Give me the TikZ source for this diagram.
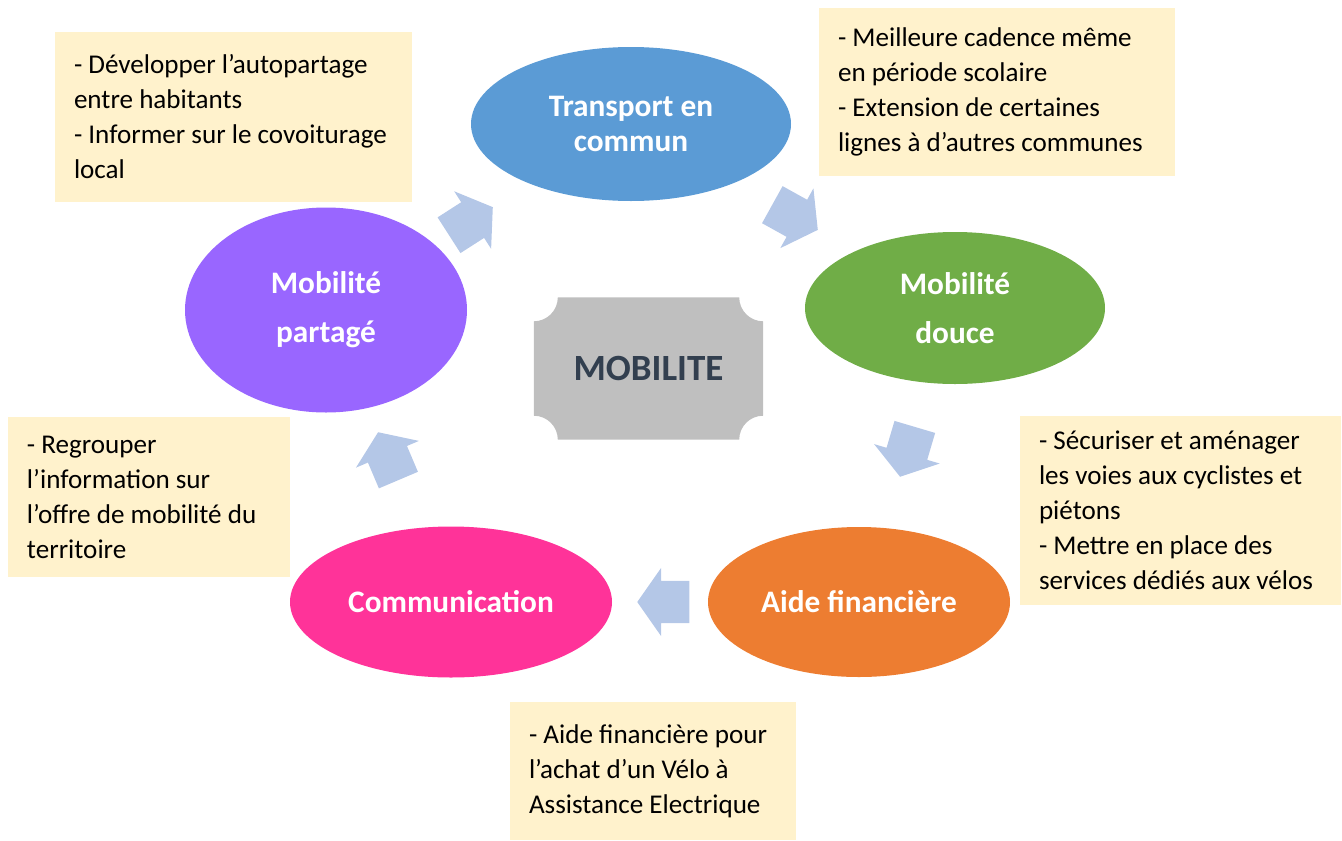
\documentclass[tikz,border=0pt]{standalone}
\usepackage{fontspec}
\setmainfont{Carlito}
\usetikzlibrary{positioning, shapes, calc, backgrounds}

\definecolor{bleuTC}{HTML}{5B9BD5}
\definecolor{vertMD}{HTML}{70AD47}
\definecolor{orangeAF}{HTML}{ED7D31}
\definecolor{roseCom}{HTML}{FF3399}
\definecolor{violetMP}{HTML}{9966FF}
\definecolor{jauneCadre}{HTML}{FFF2CC}
\definecolor{bleuFleche}{HTML}{B4C7E7}
\definecolor{grisPlaque}{HTML}{BFBFBF}
\definecolor{texteMob}{HTML}{323F4F}

\begin{document}
\begin{tikzpicture}[x=1pt, y=-1pt,
    bulle/.style={ellipse, inner sep=0pt, align=center, text=white, font=\bfseries\fontsize{31.3}{35}\selectfont},
    cadre/.style={rectangle, fill=jauneCadre, inner xsep=19pt, inner ysep=0pt, align=flush left, font=\fontsize{27.1}{35}\selectfont},
    fleche/.style={single arrow, fill=bleuFleche, inner xsep=0pt, inner ysep=21pt, minimum height=52pt, single arrow head extend=13pt, single arrow tip angle=110, anchor=tip}]
    \useasboundingbox (0,0) rectangle (1342,841);

    % centre
    \node[font=\bfseries\fontsize{37}{40}\selectfont, text=texteMob, minimum width=229pt, minimum height=142pt] (mobilite) at (648.5,368.5) {MOBILITE};
    \begin{scope}[on background layer]
        \fill[grisPlaque] ($(mobilite.north west)+(24pt,0pt)$) -- ($(mobilite.north east)+(-24pt,0pt)$)
            arc[start angle=180, end angle=270, radius=24pt] -- ($(mobilite.south east)+(0pt,24pt)$)
            arc[start angle=90, end angle=180, radius=24pt] -- ($(mobilite.south west)+(24pt,0pt)$)
            arc[start angle=0, end angle=90, radius=24pt] -- ($(mobilite.north west)+(0pt,-24pt)$)
            arc[start angle=270, end angle=360, radius=24pt] -- cycle;
    \end{scope}

    % les cinq bulles
    \node[bulle, fill=bleuTC, minimum width=320pt, minimum height=154pt] (transport) at (631,124) {Transport en\\commun};
    \node[bulle, fill=vertMD, minimum width=300pt, minimum height=152pt] (douce) at (955,308) {Mobilité\\[14pt]douce};
    \node[bulle, fill=orangeAF, minimum width=302pt, minimum height=150pt] (aide) at (859,602) {Aide financière};
    \node[bulle, fill=roseCom, minimum width=322pt, minimum height=151pt] (communication) at (451,602) {Communication};
    \node[bulle, fill=violetMP, minimum width=282pt, minimum height=205pt] (partage) at (326,310) {Mobilité\\[14pt]partagé};

    % fleches (placees par la pointe)
    \node[fleche, rotate=32.7] (f1) at (493,207) {};
    \node[fleche, rotate=-29] (f2) at (818,230) {};
    \node[fleche, rotate=253.5] (f3) at (900,477) {};
    \node[fleche, rotate=180] (f4) at (637,602) {};
    \node[fleche, rotate=113] (f5) at (378,432) {};

    % actions
    \node[cadre, minimum width=357pt, minimum height=170pt, text width=319pt] (infoPartage) at (233.5,117)
        {- Développer l’autopartage\\entre habitants\\- Informer sur le covoiturage\\local};
    \node[cadre, minimum width=356pt, minimum height=168pt, text width=318pt] (infoTransport) at (997,92)
        {- Meilleure cadence même\\en période scolaire\\- Extension de certaines\\lignes à d’autres communes};
    \node[cadre, minimum width=282pt, minimum height=160pt, text width=244pt] (infoCom) at (149,497)
        {- Regrouper\\l’information sur\\l’offre de mobilité du\\territoire};
    \node[cadre, minimum width=321pt, minimum height=189pt, text width=283pt] (infoDouce) at (1180.5,510.5)
        {- Sécuriser et aménager\\les voies aux cyclistes et\\piétons\\- Mettre en place des\\services dédiés aux vélos};
    \node[cadre, minimum width=286pt, minimum height=138pt, text width=248pt] (infoAide) at (653,771)
        {- Aide financière pour\\l’achat d’un Vélo à\\Assistance Electrique};
\end{tikzpicture}
\end{document}
